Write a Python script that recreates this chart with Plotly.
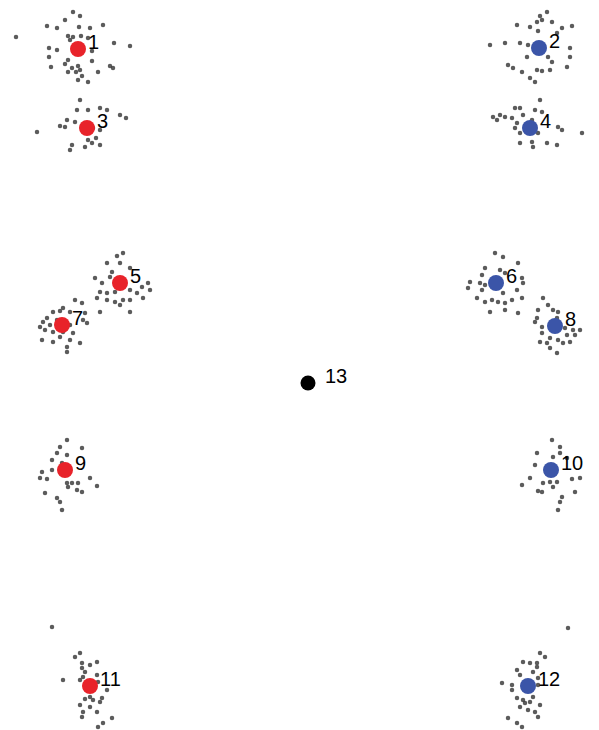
import plotly.graph_objects as go

# Main points (pixel-space coordinates)
labels = ["1", "2", "3", "4", "5", "6", "7", "8", "9", "10", "11", "12", "13"]
px = [78, 539, 87, 530, 120, 496, 62, 555, 65, 551, 90, 528, 308]
py = [49, 48, 128, 128, 283, 283, 325, 326, 470, 470, 686, 686, 383]
groups = ["red", "blue", "red", "blue", "red", "blue", "red", "blue", "red", "blue", "red", "blue", "black"]

# Scatter of small gray dots around each point
dots_x = [
    # cluster 1
    73, 80, 65, 47, 57, 79, 90, 103, 16, 68, 81, 114, 130, 49, 57, 92, 49, 68, 65, 78, 92, 51, 72, 80, 110, 113, 98, 68, 76, 82, 88, 78, 73, 88, 70,
    # cluster 3
    80, 77, 88, 100, 107, 120, 126, 67, 75, 60, 65, 37, 93, 100, 96, 72, 88, 92, 100, 70, 85,
    # cluster 2
    547, 540, 537, 542, 552, 517, 530, 562, 572, 538, 557, 505, 520, 490, 528, 570, 527, 548, 570, 552, 508, 513, 537, 522, 542, 550, 530, 535, 567,
    # cluster 4
    540, 515, 520, 535, 493, 500, 505, 512, 523, 542, 497, 517, 532, 558, 562, 515, 582, 520, 538, 520, 532, 547, 533, 557,
    # cluster 5
    123, 117, 107, 120, 112, 130, 95, 110, 148, 102, 142, 150, 100, 115, 130, 137, 107, 97, 107, 115, 123, 130, 143, 120, 100, 130,
    # cluster 7
    75, 82, 63, 60, 53, 70, 85, 47, 57, 83, 87, 43, 40, 50, 70, 45, 53, 63, 73, 42, 60, 70, 80, 53, 67, 67,
    # cluster 6
    495, 503, 518, 485, 500, 482, 505, 470, 480, 485, 522, 523, 468, 482, 517, 503, 477, 485, 492, 498, 505, 512, 522, 490, 505, 518,
    # cluster 8
    543, 548, 538, 553, 558, 537, 535, 542, 557, 565, 573, 580, 542, 567, 575, 550, 558, 540, 547, 563, 570, 550, 557,
    # cluster 9
    67, 60, 82, 57, 67, 52, 62, 52, 42, 40, 47, 90, 67, 72, 78, 97, 68, 77, 82, 45, 57, 60, 62,
    # cluster 10
    552, 537, 560, 560, 553, 567, 535, 530, 543, 550, 557, 572, 580, 522, 553, 538, 542, 575, 562, 560, 558,
    # cluster 11
    52, 80, 75, 82, 90, 97, 82, 85, 97, 83, 63, 80, 98, 107, 90, 85, 93, 100, 102, 80, 90, 97, 83, 82, 112, 103, 98,
    # cluster 12
    568, 540, 545, 523, 530, 537, 537, 517, 533, 520, 538, 502, 512, 512, 538, 517, 523, 533, 525, 530, 540, 520, 528, 535, 538, 508, 517, 522,
]
dots_y = [
    # cluster 1
    12, 16, 20, 26, 28, 27, 28, 25, 37, 36, 36, 43, 46, 48, 50, 51, 57, 60, 64, 66, 61, 67, 68, 70, 66, 68, 72, 72, 72, 76, 82, 80, 37, 38, 40,
    # cluster 3
    100, 110, 110, 108, 110, 115, 118, 120, 122, 126, 127, 132, 128, 130, 138, 145, 140, 143, 145, 150, 147,
    # cluster 2
    12, 16, 22, 20, 22, 25, 27, 28, 26, 31, 33, 43, 43, 45, 45, 48, 57, 57, 57, 62, 65, 68, 70, 72, 71, 70, 78, 82, 67,
    # cluster 4
    100, 108, 108, 110, 117, 115, 117, 118, 115, 112, 120, 123, 120, 127, 130, 128, 133, 133, 133, 143, 142, 143, 147, 145,
    # cluster 5
    253, 256, 263, 263, 272, 268, 278, 277, 283, 283, 287, 290, 292, 292, 290, 293, 293, 298, 300, 302, 300, 300, 298, 305, 312, 312,
    # cluster 7
    300, 303, 308, 311, 312, 312, 313, 318, 320, 320, 323, 322, 327, 325, 325, 330, 332, 332, 333, 340, 337, 340, 343, 342, 347, 352,
    # cluster 6
    253, 257, 263, 268, 270, 275, 273, 282, 283, 285, 278, 283, 288, 290, 290, 293, 298, 302, 300, 302, 303, 300, 298, 312, 310, 313,
    # cluster 8
    298, 305, 310, 310, 312, 318, 322, 327, 318, 328, 330, 330, 333, 335, 335, 338, 340, 342, 343, 343, 342, 348, 353,
    # cluster 9
    440, 447, 448, 453, 455, 460, 463, 470, 472, 478, 479, 478, 483, 483, 483, 486, 487, 490, 492, 493, 498, 502, 510,
    # cluster 10
    440, 453, 447, 453, 457, 458, 465, 478, 483, 482, 482, 479, 478, 485, 487, 491, 492, 492, 497, 502, 510,
    # cluster 11
    627, 653, 657, 663, 665, 662, 668, 672, 675, 677, 680, 680, 682, 690, 697, 699, 700, 702, 698, 705, 707, 712, 712, 717, 718, 723, 727,
    # cluster 12
    628, 653, 657, 662, 663, 663, 667, 670, 672, 675, 678, 683, 685, 690, 685, 698, 700, 697, 703, 702, 705, 707, 710, 712, 717, 718, 723, 727,
]

colors = {"red": "#e8232a", "blue": "#3b55a8", "black": "#000000"}
sizes = {"red": 16, "blue": 16, "black": 15}

fig = go.Figure()
fig.add_trace(go.Scatter(
    x=dots_x, y=dots_y, mode="markers",
    marker=dict(size=4.5, color="#333333", opacity=0.8, line=dict(width=0)),
    hoverinfo="skip", showlegend=False,
))
fig.add_trace(go.Scatter(
    x=px, y=py, mode="markers",
    marker=dict(size=[sizes[g] for g in groups], color=[colors[g] for g in groups],
                opacity=1, line=dict(width=0)),
    text=labels, hoverinfo="text", showlegend=False,
))
for lab, x, y, g in zip(labels, px, py, groups):
    fig.add_annotation(
        x=x, y=y, text=lab, showarrow=False,
        xanchor="left", yanchor="middle",
        xshift=15 if g == "black" else 8, yshift=7,
        font=dict(family="Liberation Sans, Arial", size=20, color="#000"),
    )

fig.update_layout(
    width=599, height=730,
    margin=dict(l=0, r=0, t=0, b=0),
    paper_bgcolor="white", plot_bgcolor="white",
    xaxis=dict(range=[0, 599], visible=False, fixedrange=True),
    yaxis=dict(range=[730, 0], visible=False, fixedrange=True),
)
fig.write_html("out.html", config={"displayModeBar": False},
               post_script="document.body.style.margin='0';")
